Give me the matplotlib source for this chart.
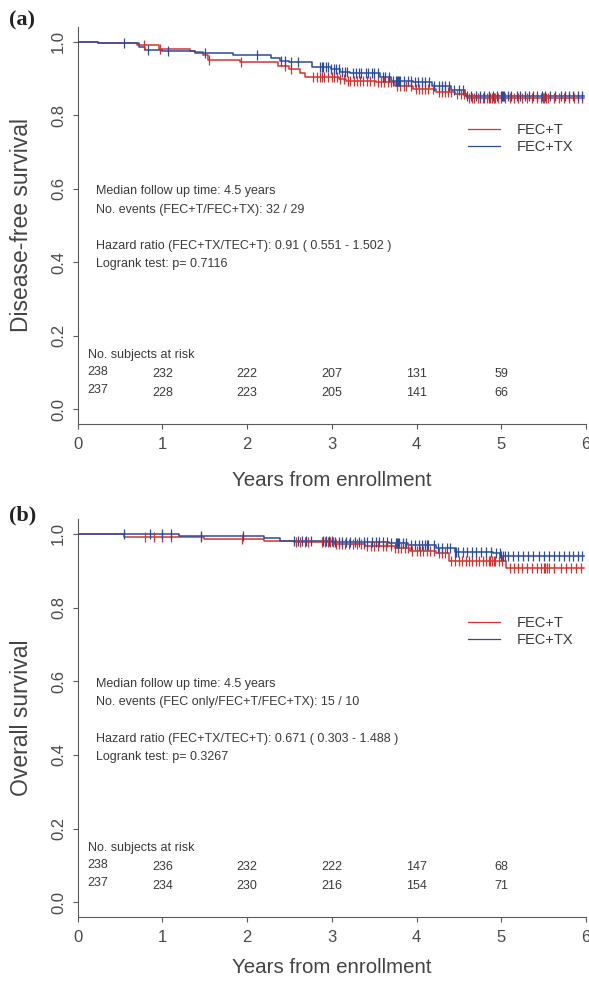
import numpy as np
import matplotlib
matplotlib.use('Agg')
import matplotlib.pyplot as plt
from matplotlib.lines import Line2D

plt.rcParams['font.family'] = ['Liberation Sans', 'DejaVu Sans']

RED = '#d4332d'
BLUE = '#2a4c9e'
TXT = '#3a3a3a'
AXC = '#5a5a5a'

x_ticks = [0, 1, 2, 3, 4, 5, 6]
y_ticks = [0.0, 0.2, 0.4, 0.6, 0.8, 1.0]
group_labels = ['FEC+T', 'FEC+TX']
risk_times = [0, 1, 2, 3, 4, 5]
followup_end = 5.98

# ---------------- Panel (a): disease-free survival ----------------
dfs_t_time = [0, 0.24, 0.70, 0.96, 1.33, 1.39, 1.48, 1.54, 1.92, 2.37, 2.50, 2.63,
              2.68, 3.08, 3.17, 3.52, 3.74, 3.96, 4.23, 4.45, 4.59]
dfs_t_surv = [1.0, 0.9955, 0.991, 0.980, 0.9755, 0.971, 0.964, 0.950, 0.9455, 0.935,
              0.9255, 0.915, 0.905, 0.898, 0.894, 0.889, 0.880, 0.871, 0.864, 0.857, 0.8465]
dfs_tx_time = [0, 0.24, 0.72, 0.79, 1.00, 1.39, 1.83, 2.28, 2.39, 2.50, 2.77, 2.99,
               3.10, 3.21, 3.57, 3.70, 3.96, 4.18, 4.41, 4.57]
dfs_tx_surv = [1.0, 0.9964, 0.985, 0.978, 0.9737, 0.968, 0.9637, 0.955, 0.948, 0.9437,
               0.930, 0.9255, 0.918, 0.9137, 0.903, 0.894, 0.889, 0.880, 0.868, 0.853]
dfs_t_cens = [0.78, 0.97, 1.55, 1.93, 2.45, 2.52, 2.78, 2.82, 2.86, 2.88, 2.91, 2.95,
              3.00, 3.03, 3.06, 3.10, 3.14, 3.19, 3.22, 3.26, 3.30, 3.33, 3.37, 3.42,
              3.45, 3.50, 3.55, 3.58, 3.62, 3.66, 3.70, 3.77, 3.81, 3.85, 3.88, 3.93,
              3.99, 4.03, 4.07, 4.10, 4.14, 4.19, 4.26, 4.30, 4.33, 4.37, 4.41, 4.48,
              4.52, 4.56, 4.62, 4.65, 4.68, 4.72, 4.75, 4.78, 4.80, 4.83, 4.85, 4.87,
              4.89, 4.91, 4.93, 4.96, 5.00, 5.04, 5.10, 5.15, 5.20, 5.24, 5.30, 5.36,
              5.42, 5.47, 5.49, 5.51, 5.53, 5.55, 5.62, 5.68, 5.74, 5.80, 5.86, 5.91, 5.95]
dfs_tx_cens = [0.55, 0.83, 1.07, 1.50, 2.12, 2.40, 2.45, 2.52, 2.60, 2.86, 2.88, 2.90,
               2.93, 2.96, 2.99, 3.02, 3.05, 3.08, 3.12, 3.15, 3.18, 3.25, 3.28, 3.32,
               3.35, 3.40, 3.43, 3.47, 3.50, 3.55, 3.60, 3.63, 3.68, 3.72, 3.76, 3.77,
               3.78, 3.79, 3.80, 3.85, 3.90, 3.93, 3.98, 4.02, 4.06, 4.10, 4.15, 4.20,
               4.26, 4.30, 4.34, 4.38, 4.44, 4.50, 4.55, 4.60, 4.64, 4.70, 4.75, 4.80,
               4.85, 4.90, 4.95, 5.00, 5.01, 5.02, 5.03, 5.08, 5.12, 5.18, 5.22, 5.28,
               5.33, 5.38, 5.42, 5.48, 5.52, 5.58, 5.63, 5.70, 5.75, 5.80, 5.85, 5.90, 5.95]
dfs_risk_t = [238, 232, 222, 207, 131, 59]
dfs_risk_tx = [237, 228, 223, 205, 141, 66]
dfs_notes = ['Median follow up time: 4.5 years',
             'No. events (FEC+T/FEC+TX): 32 / 29',
             'Hazard ratio (FEC+TX/TEC+T): 0.91 ( 0.551 - 1.502 )',
             'Logrank test: p= 0.7116']

# ---------------- Panel (b): overall survival ----------------
os_t_time = [0, 0.55, 1.49, 2.20, 2.55, 3.03, 3.39, 3.74, 3.92, 4.23, 4.38, 5.06]
os_t_surv = [1.0, 0.9928, 0.9855, 0.982, 0.979, 0.973, 0.967, 0.961, 0.955, 0.9475,
             0.927, 0.907]
os_tx_time = [0, 1.19, 2.20, 2.39, 3.03, 3.67, 3.90, 4.23, 4.45, 4.90, 4.99]
os_tx_surv = [1.0, 0.9955, 0.988, 0.982, 0.979, 0.975, 0.969, 0.961, 0.952, 0.9475,
              0.941]
os_t_cens = [0.80, 0.90, 1.00, 1.10, 1.45, 1.94, 2.58, 2.63, 2.68, 2.72, 2.88, 2.92,
             2.95, 2.98, 3.01, 3.05, 3.09, 3.12, 3.16, 3.20, 3.25, 3.30, 3.34, 3.38,
             3.42, 3.46, 3.50, 3.55, 3.60, 3.64, 3.70, 3.75, 3.78, 3.82, 3.86, 3.90,
             3.95, 4.00, 4.04, 4.08, 4.12, 4.16, 4.20, 4.26, 4.30, 4.34, 4.41, 4.45,
             4.50, 4.54, 4.58, 4.62, 4.66, 4.70, 4.74, 4.78, 4.82, 4.85, 4.87, 4.89,
             4.91, 4.93, 4.97, 5.01, 5.10, 5.15, 5.20, 5.25, 5.30, 5.36, 5.42, 5.47,
             5.50, 5.52, 5.54, 5.56, 5.62, 5.70, 5.76, 5.82, 5.88, 5.94]
os_tx_cens = [0.55, 0.85, 1.00, 1.10, 1.45, 1.95, 2.55, 2.60, 2.65, 2.70, 2.75, 2.90,
              2.93, 2.97, 3.00, 3.04, 3.08, 3.12, 3.17, 3.22, 3.27, 3.32, 3.38, 3.42,
              3.47, 3.52, 3.56, 3.60, 3.65, 3.70, 3.76, 3.77, 3.78, 3.79, 3.84, 3.88,
              3.93, 3.98, 4.03, 4.07, 4.10, 4.12, 4.14, 4.20, 4.25, 4.30, 4.36, 4.40,
              4.45, 4.47, 4.49, 4.55, 4.60, 4.65, 4.70, 4.76, 4.82, 4.88, 4.94, 4.98,
              5.00, 5.02, 5.04, 5.08, 5.14, 5.20, 5.26, 5.32, 5.38, 5.44, 5.50, 5.56,
              5.62, 5.68, 5.74, 5.80, 5.85, 5.90, 5.95]
os_risk_t = [238, 236, 232, 222, 147, 68]
os_risk_tx = [237, 234, 230, 216, 154, 71]
os_notes = ['Median follow up time: 4.5 years',
            'No. events (FEC only/FEC+T/FEC+TX): 15 / 10',
            'Hazard ratio (FEC+TX/TEC+T): 0.671 ( 0.303 - 1.488 )',
            'Logrank test: p= 0.3267']


def step_value(times, surv, t):
    i = np.searchsorted(np.asarray(times), np.asarray(t), side='right') - 1
    return np.asarray(surv)[i]


def km_panel(ax, curves, notes, risk_rows, ylabel, xlabel_y, fig):
    for times, surv, cens, col in curves:
        ax.step(list(times) + [followup_end], list(surv) + [surv[-1]], where='post',
                color=col, lw=1.1, zorder=3)
        ax.plot(cens, step_value(times, surv, cens), ls='none', marker='|', ms=7.5,
                mew=0.9, color=col, zorder=4)

    ax.set_xlim(0, 6)
    ax.set_ylim(-0.04, 1.04)
    ax.set_xticks(x_ticks)
    ax.set_yticks(y_ticks)
    ax.set_yticklabels(['%.1f' % v for v in y_ticks])
    for s in ['top', 'right']:
        ax.spines[s].set_visible(False)
    for s in ['left', 'bottom']:
        ax.spines[s].set_color(AXC)
        ax.spines[s].set_linewidth(0.8)
    ax.tick_params(axis='both', colors=AXC, labelcolor='#4a4a4a',
                   length=3.5, width=0.8, direction='out')
    ax.tick_params(axis='y', labelrotation=90, pad=5, labelsize=12)
    ax.tick_params(axis='x', pad=6, labelsize=12)
    for lab in ax.get_yticklabels():
        lab.set_va('center')

    ax.set_xlabel('Years from enrollment', fontsize=14.8, color='#444444')
    ax.xaxis.set_label_coords(0.5, xlabel_y)
    ax.xaxis.label.set_va('center')
    ax.set_ylabel(ylabel, fontsize=16.5, color='#444444')
    ax.yaxis.set_label_coords(-0.11, 0.5)
    ax.yaxis.label.set_va('center')

    # annotations
    note_y = [0.593, 0.543, 0.443, 0.394]
    for txt, yy in zip(notes, note_y):
        ax.text(0.22, yy, txt, fontsize=9, color=TXT, ha='left', va='center')

    # numbers at risk
    ax.text(0.117, 0.147, 'No. subjects at risk', fontsize=9, color=TXT,
            ha='left', va='center')
    row_y = [0.097, 0.046]
    for row, yy in zip(risk_rows, row_y):
        for t, n in zip(risk_times, row):
            if t == 0:
                ax.text(0.117, yy + 0.005, str(n), fontsize=9, color=TXT,
                        ha='left', va='center')
            else:
                ax.text(t, yy - 0.002, str(n), fontsize=9, color=TXT,
                        ha='center', va='center')

    handles = [Line2D([], [], color=c[3], lw=0.9) for c in curves]
    leg = ax.legend(handles, group_labels, loc='upper left',
                    bbox_to_anchor=(4.61, 0.778), bbox_transform=ax.transData,
                    frameon=False, fontsize=10.5, handlelength=2.2,
                    handletextpad=1.1, labelspacing=0.2, borderpad=0,
                    borderaxespad=0)
    for t in leg.get_texts():
        t.set_color(TXT)


fig = plt.figure(figsize=(5.89, 9.81), dpi=100)
ax1 = fig.add_axes([0.1319, 0.5681, 0.8630, 0.4044])
ax2 = fig.add_axes([0.1319, 0.06524, 0.8630, 0.4055])

km_panel(ax1,
         [(dfs_t_time, dfs_t_surv, dfs_t_cens, RED),
          (dfs_tx_time, dfs_tx_surv, dfs_tx_cens, BLUE)],
         dfs_notes, [dfs_risk_t, dfs_risk_tx], 'Disease-free survival', -0.143, fig)
km_panel(ax2,
         [(os_t_time, os_t_surv, os_t_cens, RED),
          (os_tx_time, os_tx_surv, os_tx_cens, BLUE)],
         os_notes, [os_risk_t, os_risk_tx], 'Overall survival', -0.128, fig)

tag_font = dict(fontsize=16, fontweight='bold', family=['Liberation Serif', 'DejaVu Serif'],
                color='#222222', ha='left', va='center')
fig.text(0.016, 1 - 20 / 981, '(a)', **tag_font)
fig.text(0.016, 1 - 515 / 981, '(b)', **tag_font)

fig.savefig('out.png', dpi=100)
